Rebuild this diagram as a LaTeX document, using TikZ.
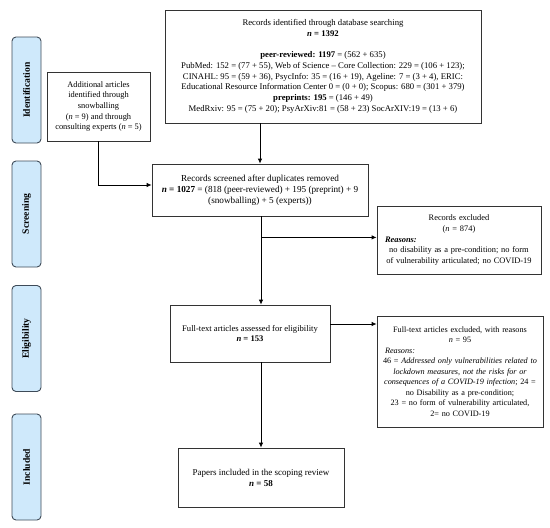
\documentclass[tikz,border=0pt]{standalone}
\usepackage{fontspec}
\setmainfont{Liberation Serif}
\usetikzlibrary{arrows.meta,calc}
\definecolor{phasefill}{HTML}{CFE9FB}
\definecolor{phaseline}{HTML}{3E4B58}
\definecolor{boxline}{HTML}{333333}
\newcommand{\fs}[2]{\fontsize{#1}{#2}\selectfont}
\tikzset{
  box/.style={draw=boxline,line width=0.8pt,fill=white,inner sep=0pt,align=center},
  phase/.style={draw=phaseline,line width=0.9pt,fill=phasefill,rounded corners=4pt,
    rotate=90,minimum width=106pt,minimum height=29pt,inner sep=0pt,
    font=\fontsize{9.6}{12}\selectfont\bfseries},
  arr/.style={line width=0.8pt,-{Latex[length=5pt,width=4.5pt]}}
}
\begin{document}
\begin{tikzpicture}[x=1pt,y=-1pt]
\useasboundingbox (0,0) rectangle (550,528);
% phase labels
\node[phase] (pI) at (26.5,90) {Identification};
\node[phase] (pS) at (26.5,214) {Screening};
\node[phase] (pE) at (26.5,338.5) {Eligibility};
\node[phase] (pN) at (26.5,467) {Included};
% boxes
\node[box,minimum width=316pt,minimum height=113pt,font=\fs{8.7}{10.8}] (db) at (323,66.5)
 {Records identified through database searching\\
  \textbf{\textit{n} = 1392}\\[10pt]
  \textbf{peer-reviewed: 1197} = (562 + 635)\\
  PubMed: 152 = (77 + 55), Web of Science -- Core Collection: 229 = (106 + 123);\\
  CINAHL: 95 = (59 + 36), PsycInfo: 35 = (16 + 19), Ageline: 7 = (3 + 4), ERIC:\\
  Educational Resource Information Center 0 = (0 + 0); Scopus: 680 = (301 + 379)\\
  \textbf{preprints: 195} = (146 + 49)\\
  MedRxiv: 95 = (75 + 20); PsyArXiv:81 = (58 + 23) SocArXIV:19 = (13 + 6)};
\node[box,minimum width=103pt,minimum height=69pt,font=\fs{8.4}{10.7}] (snow) at (98.5,106.5)
 {Additional articles\\identified through\\snowballing\\(\textit{n} = 9) and through\\consulting experts (\textit{n} = 5)};
\node[box,minimum width=216pt,minimum height=52pt,font=\fs{9.2}{11}] (scr) at (260,190)
 {Records screened after duplicates removed\\
  \textbf{\textit{n} = 1027} = (818 (peer-reviewed) + 195 (preprint) + 9\\
  (snowballing) + 5 (experts))};
\node[box,minimum width=164pt,minimum height=68pt,text width=164pt,font=\fs{8.4}{10.7}] (exc1) at (459,240)
 {Records excluded\\(\textit{n} = 874)\par
  \raggedright\hspace*{8pt}\textbf{\textit{Reasons:}}\par
  \centering no disability as a pre-condition; no form\\of vulnerability articulated; no COVID-19\par};
\node[box,minimum width=160pt,minimum height=57pt,font=\fs{8.6}{10.8}] (elig) at (250,333.5)
 {Full-text articles assessed for eligibility\\\textbf{\textit{n} = 153}};
\node[box,minimum width=166pt,minimum height=111pt,text width=166pt,font=\fs{8.2}{10.5}] (exc2) at (460,371.5)
 {Full-text articles excluded, with reasons\\\textit{n} = 95\par
  \raggedright\hspace*{8pt}\textit{Reasons:}\par
  \centering 46 = \textit{Addressed only vulnerabilities related to}\\
  \textit{lockdown measures, not the risks for or}\\
  \textit{consequences of a COVID-19 infection}; 24 =\\
  no Disability as a pre-condition;\\
  23 = no form of vulnerability articulated,\\
  2= no COVID-19\par};
\node[box,minimum width=166pt,minimum height=59pt,font=\fs{9}{11}] (incl) at (261,477.5)
 {Papers included in the scoping review\\\textbf{\textit{n} = 58}};
% connectors
\draw[arr] (db.south -| scr.north) -- (scr.north);
\draw[arr] (snow.south) |- ([yshift=5pt]scr.west);
\coordinate (top1) at (scr.south -| incl.north);
\coordinate (b1) at ($(top1)+(0,21)$);
\draw[arr] (top1) -- (elig.north -| incl.north);
\draw[arr] (b1) -- (b1 -| exc1.west);
\coordinate (b2) at ([yshift=9.5pt]elig.east);
\draw[arr] (b2) -- (b2 -| exc2.west);
\draw[arr] (elig.south -| incl.north) -- (incl.north);
\end{tikzpicture}
\end{document}
